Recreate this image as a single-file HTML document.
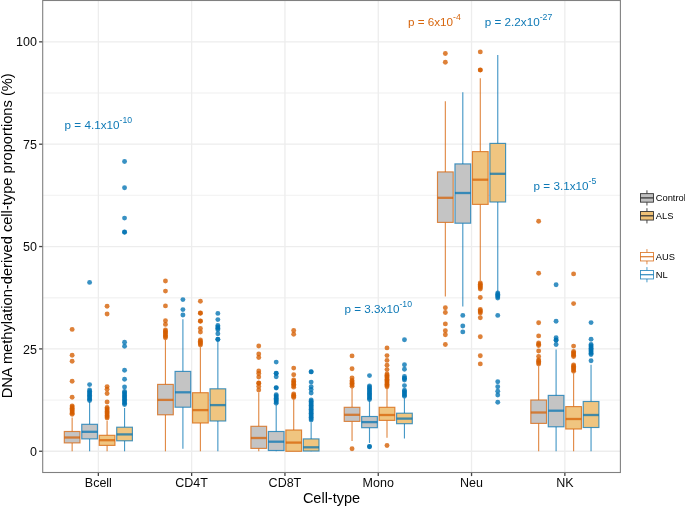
<!DOCTYPE html>
<html lang="en"><head><meta charset="utf-8"><title>Cell-type proportions</title>
<style>html,body{margin:0;padding:0;background:#fff}body{width:685px;height:506px;overflow:hidden}svg{display:block}text{font-family:"Liberation Sans",Arial,Helvetica,sans-serif}</style>
</head><body>
<svg width="685" height="506" viewBox="0 0 685 506">
<rect x="0" y="0" width="685" height="506" fill="#fff"/>
<g stroke="#f4f4f4" stroke-width="1.3" fill="none">
<line x1="42.7" x2="620.4" y1="400.07" y2="400.07"/>
<line x1="42.7" x2="620.4" y1="297.73" y2="297.73"/>
<line x1="42.7" x2="620.4" y1="195.37" y2="195.37"/>
<line x1="42.7" x2="620.4" y1="93.02" y2="93.02"/>
</g>
<g stroke="#ededed" stroke-width="1.3" fill="none">
<line x1="42.7" x2="620.4" y1="451.25" y2="451.25"/>
<line x1="42.7" x2="620.4" y1="348.90" y2="348.90"/>
<line x1="42.7" x2="620.4" y1="246.55" y2="246.55"/>
<line x1="42.7" x2="620.4" y1="144.20" y2="144.20"/>
<line x1="42.7" x2="620.4" y1="41.85" y2="41.85"/>
<line x1="98.35" x2="98.35" y1="0.5" y2="472.5"/>
<line x1="191.65" x2="191.65" y1="0.5" y2="472.5"/>
<line x1="284.95" x2="284.95" y1="0.5" y2="472.5"/>
<line x1="378.25" x2="378.25" y1="0.5" y2="472.5"/>
<line x1="471.55" x2="471.55" y1="0.5" y2="472.5"/>
<line x1="564.85" x2="564.85" y1="0.5" y2="472.5"/>
</g>
<g fill="#D55E00" fill-opacity="0.78">
<circle cx="72.15" cy="329.40" r="2.45"/><circle cx="72.15" cy="355.30" r="2.45"/><circle cx="72.15" cy="361.20" r="2.45"/><circle cx="72.15" cy="381.20" r="2.45"/><circle cx="72.15" cy="397.30" r="2.45"/><circle cx="72.15" cy="405.85" r="2.45"/><circle cx="72.15" cy="407.06" r="2.45"/><circle cx="72.15" cy="408.28" r="2.45"/><circle cx="72.15" cy="409.49" r="2.45"/><circle cx="72.15" cy="410.71" r="2.45"/><circle cx="72.15" cy="411.92" r="2.45"/><circle cx="72.15" cy="413.14" r="2.45"/><circle cx="72.15" cy="414.35" r="2.45"/>
</g>
<g stroke="#D55E00" stroke-opacity="0.72" stroke-width="1.15" fill="none">
<line x1="72.15" x2="72.15" y1="417.50" y2="431.50"/>
<line x1="72.15" x2="72.15" y1="442.90" y2="451.30"/>
<rect x="64.30" y="431.50" width="15.7" height="11.40" fill="#c0c0c0" fill-opacity="0.93"/>
<line x1="64.30" x2="80.00" y1="437.50" y2="437.50" stroke-width="2.3"/>
</g>
<g fill="#0072B2" fill-opacity="0.78">
<circle cx="89.60" cy="282.40" r="2.45"/><circle cx="89.60" cy="384.60" r="2.45"/><circle cx="89.60" cy="390.05" r="2.45"/><circle cx="89.60" cy="391.36" r="2.45"/><circle cx="89.60" cy="392.68" r="2.45"/><circle cx="89.60" cy="393.99" r="2.45"/><circle cx="89.60" cy="395.30" r="2.45"/><circle cx="89.60" cy="396.61" r="2.45"/><circle cx="89.60" cy="397.93" r="2.45"/><circle cx="89.60" cy="399.24" r="2.45"/><circle cx="89.60" cy="400.55" r="2.45"/>
</g>
<g stroke="#0072B2" stroke-opacity="0.72" stroke-width="1.15" fill="none">
<line x1="89.60" x2="89.60" y1="402.00" y2="424.30"/>
<line x1="89.60" x2="89.60" y1="438.90" y2="451.30"/>
<rect x="81.75" y="424.30" width="15.7" height="14.60" fill="#c0c0c0" fill-opacity="0.93"/>
<line x1="81.75" x2="97.45" y1="431.80" y2="431.80" stroke-width="2.3"/>
</g>
<g fill="#D55E00" fill-opacity="0.78">
<circle cx="107.10" cy="306.20" r="2.45"/><circle cx="107.10" cy="314.00" r="2.45"/><circle cx="107.10" cy="386.60" r="2.45"/><circle cx="107.10" cy="389.20" r="2.45"/><circle cx="107.10" cy="393.50" r="2.45"/><circle cx="107.10" cy="402.00" r="2.45"/><circle cx="107.10" cy="407.45" r="2.45"/><circle cx="107.10" cy="408.77" r="2.45"/><circle cx="107.10" cy="410.10" r="2.45"/><circle cx="107.10" cy="411.43" r="2.45"/><circle cx="107.10" cy="412.75" r="2.45"/><circle cx="107.10" cy="414.07" r="2.45"/><circle cx="107.10" cy="415.40" r="2.45"/><circle cx="107.10" cy="416.73" r="2.45"/><circle cx="107.10" cy="418.05" r="2.45"/>
</g>
<g stroke="#D55E00" stroke-opacity="0.72" stroke-width="1.15" fill="none">
<line x1="107.10" x2="107.10" y1="421.00" y2="435.30"/>
<line x1="107.10" x2="107.10" y1="445.40" y2="451.30"/>
<rect x="99.25" y="435.30" width="15.7" height="10.10" fill="#efc176" fill-opacity="0.93"/>
<line x1="99.25" x2="114.95" y1="440.20" y2="440.20" stroke-width="2.3"/>
</g>
<g fill="#0072B2" fill-opacity="0.78">
<circle cx="124.55" cy="161.50" r="2.45"/><circle cx="124.55" cy="187.70" r="2.45"/><circle cx="124.55" cy="218.10" r="2.45"/><circle cx="124.55" cy="232.00" r="2.45"/><circle cx="124.55" cy="232.20" r="2.45"/><circle cx="124.55" cy="342.30" r="2.45"/><circle cx="124.55" cy="346.30" r="2.45"/><circle cx="124.55" cy="370.20" r="2.45"/><circle cx="124.55" cy="379.20" r="2.45"/><circle cx="124.55" cy="387.00" r="2.45"/><circle cx="124.55" cy="391.45" r="2.45"/><circle cx="124.55" cy="392.76" r="2.45"/><circle cx="124.55" cy="394.07" r="2.45"/><circle cx="124.55" cy="395.38" r="2.45"/><circle cx="124.55" cy="396.69" r="2.45"/><circle cx="124.55" cy="398.00" r="2.45"/><circle cx="124.55" cy="399.31" r="2.45"/><circle cx="124.55" cy="400.62" r="2.45"/><circle cx="124.55" cy="401.93" r="2.45"/><circle cx="124.55" cy="403.24" r="2.45"/><circle cx="124.55" cy="404.55" r="2.45"/>
</g>
<g stroke="#0072B2" stroke-opacity="0.72" stroke-width="1.15" fill="none">
<line x1="124.55" x2="124.55" y1="408.00" y2="427.20"/>
<line x1="124.55" x2="124.55" y1="440.80" y2="451.30"/>
<rect x="116.70" y="427.20" width="15.7" height="13.60" fill="#efc176" fill-opacity="0.93"/>
<line x1="116.70" x2="132.40" y1="434.40" y2="434.40" stroke-width="2.3"/>
</g>
<g fill="#D55E00" fill-opacity="0.78">
<circle cx="165.45" cy="281.00" r="2.45"/><circle cx="165.45" cy="291.10" r="2.45"/><circle cx="165.45" cy="305.90" r="2.45"/><circle cx="165.45" cy="320.70" r="2.45"/><circle cx="165.45" cy="324.40" r="2.45"/><circle cx="165.45" cy="329.95" r="2.45"/><circle cx="165.45" cy="331.25" r="2.45"/><circle cx="165.45" cy="332.55" r="2.45"/><circle cx="165.45" cy="333.85" r="2.45"/><circle cx="165.45" cy="335.15" r="2.45"/><circle cx="165.45" cy="336.45" r="2.45"/><circle cx="165.45" cy="337.75" r="2.45"/>
</g>
<g stroke="#D55E00" stroke-opacity="0.72" stroke-width="1.15" fill="none">
<line x1="165.45" x2="165.45" y1="340.00" y2="384.40"/>
<line x1="165.45" x2="165.45" y1="414.80" y2="451.30"/>
<rect x="157.60" y="384.40" width="15.7" height="30.40" fill="#c0c0c0" fill-opacity="0.93"/>
<line x1="157.60" x2="173.30" y1="399.90" y2="399.90" stroke-width="2.3"/>
</g>
<g fill="#0072B2" fill-opacity="0.78">
<circle cx="182.90" cy="299.60" r="2.45"/><circle cx="182.90" cy="309.60" r="2.45"/><circle cx="182.90" cy="315.00" r="2.45"/>
</g>
<g stroke="#0072B2" stroke-opacity="0.72" stroke-width="1.15" fill="none">
<line x1="182.90" x2="182.90" y1="319.20" y2="371.40"/>
<line x1="182.90" x2="182.90" y1="407.20" y2="448.70"/>
<rect x="175.05" y="371.40" width="15.7" height="35.80" fill="#c0c0c0" fill-opacity="0.93"/>
<line x1="175.05" x2="190.75" y1="392.30" y2="392.30" stroke-width="2.3"/>
</g>
<g fill="#D55E00" fill-opacity="0.78">
<circle cx="200.40" cy="301.20" r="2.45"/><circle cx="200.40" cy="313.00" r="2.45"/><circle cx="200.40" cy="313.30" r="2.45"/><circle cx="200.40" cy="321.00" r="2.45"/><circle cx="200.40" cy="321.30" r="2.45"/><circle cx="200.40" cy="328.40" r="2.45"/><circle cx="200.40" cy="332.00" r="2.45"/><circle cx="200.40" cy="339.95" r="2.45"/><circle cx="200.40" cy="341.23" r="2.45"/><circle cx="200.40" cy="342.50" r="2.45"/><circle cx="200.40" cy="343.77" r="2.45"/><circle cx="200.40" cy="345.05" r="2.45"/>
</g>
<g stroke="#D55E00" stroke-opacity="0.72" stroke-width="1.15" fill="none">
<line x1="200.40" x2="200.40" y1="347.30" y2="392.70"/>
<line x1="200.40" x2="200.40" y1="423.00" y2="451.30"/>
<rect x="192.55" y="392.70" width="15.7" height="30.30" fill="#efc176" fill-opacity="0.93"/>
<line x1="192.55" x2="208.25" y1="410.10" y2="410.10" stroke-width="2.3"/>
</g>
<g fill="#0072B2" fill-opacity="0.78">
<circle cx="217.85" cy="313.40" r="2.45"/><circle cx="217.85" cy="319.60" r="2.45"/><circle cx="217.85" cy="333.70" r="2.45"/><circle cx="217.85" cy="339.20" r="2.45"/><circle cx="217.85" cy="339.50" r="2.45"/><circle cx="217.85" cy="325.45" r="2.45"/><circle cx="217.85" cy="326.88" r="2.45"/><circle cx="217.85" cy="328.32" r="2.45"/><circle cx="217.85" cy="329.75" r="2.45"/>
</g>
<g stroke="#0072B2" stroke-opacity="0.72" stroke-width="1.15" fill="none">
<line x1="217.85" x2="217.85" y1="341.40" y2="388.80"/>
<line x1="217.85" x2="217.85" y1="421.00" y2="451.30"/>
<rect x="210.00" y="388.80" width="15.7" height="32.20" fill="#efc176" fill-opacity="0.93"/>
<line x1="210.00" x2="225.70" y1="405.10" y2="405.10" stroke-width="2.3"/>
</g>
<g fill="#D55E00" fill-opacity="0.78">
<circle cx="258.75" cy="346.00" r="2.45"/><circle cx="258.75" cy="354.00" r="2.45"/><circle cx="258.75" cy="357.50" r="2.45"/><circle cx="258.75" cy="371.00" r="2.45"/><circle cx="258.75" cy="373.50" r="2.45"/><circle cx="258.75" cy="377.00" r="2.45"/><circle cx="258.75" cy="383.00" r="2.45"/><circle cx="258.75" cy="383.30" r="2.45"/><circle cx="258.75" cy="386.40" r="2.45"/><circle cx="258.75" cy="390.00" r="2.45"/>
</g>
<g stroke="#D55E00" stroke-opacity="0.72" stroke-width="1.15" fill="none">
<line x1="258.75" x2="258.75" y1="392.40" y2="426.30"/>
<line x1="258.75" x2="258.75" y1="448.40" y2="451.30"/>
<rect x="250.90" y="426.30" width="15.7" height="22.10" fill="#c0c0c0" fill-opacity="0.93"/>
<line x1="250.90" x2="266.60" y1="438.00" y2="438.00" stroke-width="2.3"/>
</g>
<g fill="#0072B2" fill-opacity="0.78">
<circle cx="276.20" cy="362.10" r="2.45"/><circle cx="276.20" cy="373.20" r="2.45"/><circle cx="276.20" cy="373.50" r="2.45"/><circle cx="276.20" cy="376.70" r="2.45"/><circle cx="276.20" cy="387.60" r="2.45"/><circle cx="276.20" cy="388.00" r="2.45"/><circle cx="276.20" cy="394.65" r="2.45"/><circle cx="276.20" cy="395.86" r="2.45"/><circle cx="276.20" cy="397.08" r="2.45"/><circle cx="276.20" cy="398.29" r="2.45"/><circle cx="276.20" cy="399.51" r="2.45"/><circle cx="276.20" cy="400.72" r="2.45"/><circle cx="276.20" cy="401.94" r="2.45"/><circle cx="276.20" cy="403.15" r="2.45"/>
</g>
<g stroke="#0072B2" stroke-opacity="0.72" stroke-width="1.15" fill="none">
<line x1="276.20" x2="276.20" y1="404.90" y2="431.50"/>
<line x1="276.20" x2="276.20" y1="450.50" y2="451.30"/>
<rect x="268.35" y="431.50" width="15.7" height="19.00" fill="#c0c0c0" fill-opacity="0.93"/>
<line x1="268.35" x2="284.05" y1="441.70" y2="441.70" stroke-width="2.3"/>
</g>
<g fill="#D55E00" fill-opacity="0.78">
<circle cx="293.70" cy="330.40" r="2.45"/><circle cx="293.70" cy="334.30" r="2.45"/><circle cx="293.70" cy="368.10" r="2.45"/><circle cx="293.70" cy="374.80" r="2.45"/><circle cx="293.70" cy="380.05" r="2.45"/><circle cx="293.70" cy="381.47" r="2.45"/><circle cx="293.70" cy="382.89" r="2.45"/><circle cx="293.70" cy="384.31" r="2.45"/><circle cx="293.70" cy="385.73" r="2.45"/><circle cx="293.70" cy="387.15" r="2.45"/><circle cx="293.70" cy="394.05" r="2.45"/><circle cx="293.70" cy="395.22" r="2.45"/><circle cx="293.70" cy="396.38" r="2.45"/><circle cx="293.70" cy="397.55" r="2.45"/>
</g>
<g stroke="#D55E00" stroke-opacity="0.72" stroke-width="1.15" fill="none">
<line x1="293.70" x2="293.70" y1="399.70" y2="430.00"/>
<line x1="293.70" x2="293.70" y1="451.30" y2="451.30"/>
<rect x="285.85" y="430.00" width="15.7" height="21.30" fill="#efc176" fill-opacity="0.93"/>
<line x1="285.85" x2="301.55" y1="442.60" y2="442.60" stroke-width="2.3"/>
</g>
<g fill="#0072B2" fill-opacity="0.78">
<circle cx="311.15" cy="371.70" r="2.45"/><circle cx="311.15" cy="371.90" r="2.45"/><circle cx="311.15" cy="382.10" r="2.45"/><circle cx="311.15" cy="386.80" r="2.45"/><circle cx="311.15" cy="389.50" r="2.45"/><circle cx="311.15" cy="393.00" r="2.45"/><circle cx="311.15" cy="399.95" r="2.45"/><circle cx="311.15" cy="401.29" r="2.45"/><circle cx="311.15" cy="402.63" r="2.45"/><circle cx="311.15" cy="403.97" r="2.45"/><circle cx="311.15" cy="405.31" r="2.45"/><circle cx="311.15" cy="406.65" r="2.45"/><circle cx="311.15" cy="407.99" r="2.45"/><circle cx="311.15" cy="409.33" r="2.45"/><circle cx="311.15" cy="410.67" r="2.45"/><circle cx="311.15" cy="412.01" r="2.45"/><circle cx="311.15" cy="413.35" r="2.45"/><circle cx="311.15" cy="414.69" r="2.45"/><circle cx="311.15" cy="416.03" r="2.45"/><circle cx="311.15" cy="417.37" r="2.45"/><circle cx="311.15" cy="418.71" r="2.45"/><circle cx="311.15" cy="420.05" r="2.45"/>
</g>
<g stroke="#0072B2" stroke-opacity="0.72" stroke-width="1.15" fill="none">
<line x1="311.15" x2="311.15" y1="422.40" y2="438.90"/>
<line x1="311.15" x2="311.15" y1="451.00" y2="451.30"/>
<rect x="303.30" y="438.90" width="15.7" height="12.10" fill="#efc176" fill-opacity="0.93"/>
<line x1="303.30" x2="319.00" y1="447.30" y2="447.30" stroke-width="2.3"/>
</g>
<g fill="#D55E00" fill-opacity="0.78">
<circle cx="352.05" cy="448.70" r="2.45"/><circle cx="352.05" cy="355.90" r="2.45"/><circle cx="352.05" cy="368.80" r="2.45"/><circle cx="352.05" cy="378.00" r="2.45"/><circle cx="352.05" cy="380.45" r="2.45"/><circle cx="352.05" cy="381.88" r="2.45"/><circle cx="352.05" cy="383.30" r="2.45"/><circle cx="352.05" cy="384.73" r="2.45"/><circle cx="352.05" cy="386.15" r="2.45"/>
</g>
<g stroke="#D55E00" stroke-opacity="0.72" stroke-width="1.15" fill="none">
<line x1="352.05" x2="352.05" y1="388.00" y2="407.30"/>
<line x1="352.05" x2="352.05" y1="421.40" y2="441.10"/>
<rect x="344.20" y="407.30" width="15.7" height="14.10" fill="#c0c0c0" fill-opacity="0.93"/>
<line x1="344.20" x2="359.90" y1="414.80" y2="414.80" stroke-width="2.3"/>
</g>
<g fill="#0072B2" fill-opacity="0.78">
<circle cx="369.50" cy="446.50" r="2.45"/><circle cx="369.50" cy="446.70" r="2.45"/><circle cx="369.50" cy="375.60" r="2.45"/><circle cx="369.50" cy="385.85" r="2.45"/><circle cx="369.50" cy="387.10" r="2.45"/><circle cx="369.50" cy="388.34" r="2.45"/><circle cx="369.50" cy="389.59" r="2.45"/><circle cx="369.50" cy="390.83" r="2.45"/><circle cx="369.50" cy="392.08" r="2.45"/><circle cx="369.50" cy="393.32" r="2.45"/><circle cx="369.50" cy="394.57" r="2.45"/><circle cx="369.50" cy="395.81" r="2.45"/><circle cx="369.50" cy="397.06" r="2.45"/><circle cx="369.50" cy="398.30" r="2.45"/><circle cx="369.50" cy="399.55" r="2.45"/>
</g>
<g stroke="#0072B2" stroke-opacity="0.72" stroke-width="1.15" fill="none">
<line x1="369.50" x2="369.50" y1="401.20" y2="416.50"/>
<line x1="369.50" x2="369.50" y1="427.70" y2="442.90"/>
<rect x="361.65" y="416.50" width="15.7" height="11.20" fill="#c0c0c0" fill-opacity="0.93"/>
<line x1="361.65" x2="377.35" y1="422.10" y2="422.10" stroke-width="2.3"/>
</g>
<g fill="#D55E00" fill-opacity="0.78">
<circle cx="387.00" cy="445.50" r="2.45"/><circle cx="387.00" cy="347.90" r="2.45"/><circle cx="387.00" cy="355.60" r="2.45"/><circle cx="387.00" cy="360.40" r="2.45"/><circle cx="387.00" cy="365.30" r="2.45"/><circle cx="387.00" cy="369.60" r="2.45"/><circle cx="387.00" cy="374.05" r="2.45"/><circle cx="387.00" cy="375.32" r="2.45"/><circle cx="387.00" cy="376.59" r="2.45"/><circle cx="387.00" cy="377.86" r="2.45"/><circle cx="387.00" cy="379.13" r="2.45"/><circle cx="387.00" cy="380.40" r="2.45"/><circle cx="387.00" cy="381.67" r="2.45"/><circle cx="387.00" cy="382.94" r="2.45"/><circle cx="387.00" cy="384.21" r="2.45"/><circle cx="387.00" cy="385.48" r="2.45"/><circle cx="387.00" cy="386.75" r="2.45"/>
</g>
<g stroke="#D55E00" stroke-opacity="0.72" stroke-width="1.15" fill="none">
<line x1="387.00" x2="387.00" y1="388.80" y2="407.30"/>
<line x1="387.00" x2="387.00" y1="420.40" y2="437.70"/>
<rect x="379.15" y="407.30" width="15.7" height="13.10" fill="#efc176" fill-opacity="0.93"/>
<line x1="379.15" x2="394.85" y1="415.00" y2="415.00" stroke-width="2.3"/>
</g>
<g fill="#0072B2" fill-opacity="0.78">
<circle cx="404.45" cy="339.80" r="2.45"/><circle cx="404.45" cy="364.80" r="2.45"/><circle cx="404.45" cy="369.20" r="2.45"/><circle cx="404.45" cy="376.40" r="2.45"/><circle cx="404.45" cy="378.30" r="2.45"/><circle cx="404.45" cy="378.60" r="2.45"/><circle cx="404.45" cy="380.00" r="2.45"/><circle cx="404.45" cy="385.60" r="2.45"/><circle cx="404.45" cy="390.25" r="2.45"/><circle cx="404.45" cy="391.47" r="2.45"/><circle cx="404.45" cy="392.69" r="2.45"/><circle cx="404.45" cy="393.91" r="2.45"/><circle cx="404.45" cy="395.13" r="2.45"/><circle cx="404.45" cy="396.35" r="2.45"/>
</g>
<g stroke="#0072B2" stroke-opacity="0.72" stroke-width="1.15" fill="none">
<line x1="404.45" x2="404.45" y1="398.30" y2="413.20"/>
<line x1="404.45" x2="404.45" y1="423.70" y2="438.50"/>
<rect x="396.60" y="413.20" width="15.7" height="10.50" fill="#efc176" fill-opacity="0.93"/>
<line x1="396.60" x2="412.30" y1="418.60" y2="418.60" stroke-width="2.3"/>
</g>
<g fill="#D55E00" fill-opacity="0.78">
<circle cx="445.35" cy="53.50" r="2.45"/><circle cx="445.35" cy="62.20" r="2.45"/><circle cx="445.35" cy="307.80" r="2.45"/><circle cx="445.35" cy="312.50" r="2.45"/><circle cx="445.35" cy="323.90" r="2.45"/><circle cx="445.35" cy="330.70" r="2.45"/><circle cx="445.35" cy="334.80" r="2.45"/><circle cx="445.35" cy="344.50" r="2.45"/>
</g>
<g stroke="#D55E00" stroke-opacity="0.72" stroke-width="1.15" fill="none">
<line x1="445.35" x2="445.35" y1="101.30" y2="171.90"/>
<line x1="445.35" x2="445.35" y1="222.40" y2="296.50"/>
<rect x="437.50" y="171.90" width="15.7" height="50.50" fill="#c0c0c0" fill-opacity="0.93"/>
<line x1="437.50" x2="453.20" y1="197.80" y2="197.80" stroke-width="2.3"/>
</g>
<g fill="#0072B2" fill-opacity="0.78">
<circle cx="462.80" cy="315.40" r="2.45"/><circle cx="462.80" cy="326.00" r="2.45"/><circle cx="462.80" cy="331.90" r="2.45"/>
</g>
<g stroke="#0072B2" stroke-opacity="0.72" stroke-width="1.15" fill="none">
<line x1="462.80" x2="462.80" y1="92.30" y2="163.90"/>
<line x1="462.80" x2="462.80" y1="223.20" y2="306.60"/>
<rect x="454.95" y="163.90" width="15.7" height="59.30" fill="#c0c0c0" fill-opacity="0.93"/>
<line x1="454.95" x2="470.65" y1="193.00" y2="193.00" stroke-width="2.3"/>
</g>
<g fill="#D55E00" fill-opacity="0.78">
<circle cx="480.30" cy="51.90" r="2.45"/><circle cx="480.30" cy="69.90" r="2.45"/><circle cx="480.30" cy="70.10" r="2.45"/><circle cx="480.30" cy="297.50" r="2.45"/><circle cx="480.30" cy="317.70" r="2.45"/><circle cx="480.30" cy="336.70" r="2.45"/><circle cx="480.30" cy="355.70" r="2.45"/><circle cx="480.30" cy="363.90" r="2.45"/><circle cx="480.30" cy="282.95" r="2.45"/><circle cx="480.30" cy="284.17" r="2.45"/><circle cx="480.30" cy="285.39" r="2.45"/><circle cx="480.30" cy="286.61" r="2.45"/><circle cx="480.30" cy="287.83" r="2.45"/><circle cx="480.30" cy="289.05" r="2.45"/><circle cx="480.30" cy="309.45" r="2.45"/><circle cx="480.30" cy="310.65" r="2.45"/><circle cx="480.30" cy="311.85" r="2.45"/><circle cx="480.30" cy="313.05" r="2.45"/>
</g>
<g stroke="#D55E00" stroke-opacity="0.72" stroke-width="1.15" fill="none">
<line x1="480.30" x2="480.30" y1="78.20" y2="151.60"/>
<line x1="480.30" x2="480.30" y1="204.40" y2="280.70"/>
<rect x="472.45" y="151.60" width="15.7" height="52.80" fill="#efc176" fill-opacity="0.93"/>
<line x1="472.45" x2="488.15" y1="179.70" y2="179.70" stroke-width="2.3"/>
</g>
<g fill="#0072B2" fill-opacity="0.78">
<circle cx="497.75" cy="315.40" r="2.45"/><circle cx="497.75" cy="381.80" r="2.45"/><circle cx="497.75" cy="386.80" r="2.45"/><circle cx="497.75" cy="391.30" r="2.45"/><circle cx="497.75" cy="395.00" r="2.45"/><circle cx="497.75" cy="402.30" r="2.45"/><circle cx="497.75" cy="292.95" r="2.45"/><circle cx="497.75" cy="294.23" r="2.45"/><circle cx="497.75" cy="295.50" r="2.45"/><circle cx="497.75" cy="296.77" r="2.45"/><circle cx="497.75" cy="298.05" r="2.45"/>
</g>
<g stroke="#0072B2" stroke-opacity="0.72" stroke-width="1.15" fill="none">
<line x1="497.75" x2="497.75" y1="55.10" y2="143.40"/>
<line x1="497.75" x2="497.75" y1="202.00" y2="291.70"/>
<rect x="489.90" y="143.40" width="15.7" height="58.60" fill="#efc176" fill-opacity="0.93"/>
<line x1="489.90" x2="505.60" y1="173.80" y2="173.80" stroke-width="2.3"/>
</g>
<g fill="#D55E00" fill-opacity="0.78">
<circle cx="538.65" cy="221.30" r="2.45"/><circle cx="538.65" cy="273.20" r="2.45"/><circle cx="538.65" cy="322.70" r="2.45"/><circle cx="538.65" cy="335.90" r="2.45"/><circle cx="538.65" cy="351.00" r="2.45"/><circle cx="538.65" cy="356.50" r="2.45"/><circle cx="538.65" cy="342.95" r="2.45"/><circle cx="538.65" cy="344.25" r="2.45"/><circle cx="538.65" cy="345.55" r="2.45"/><circle cx="538.65" cy="359.95" r="2.45"/><circle cx="538.65" cy="361.32" r="2.45"/><circle cx="538.65" cy="362.68" r="2.45"/><circle cx="538.65" cy="364.05" r="2.45"/>
</g>
<g stroke="#D55E00" stroke-opacity="0.72" stroke-width="1.15" fill="none">
<line x1="538.65" x2="538.65" y1="366.30" y2="400.00"/>
<line x1="538.65" x2="538.65" y1="423.40" y2="451.30"/>
<rect x="530.80" y="400.00" width="15.7" height="23.40" fill="#c0c0c0" fill-opacity="0.93"/>
<line x1="530.80" x2="546.50" y1="412.50" y2="412.50" stroke-width="2.3"/>
</g>
<g fill="#0072B2" fill-opacity="0.78">
<circle cx="556.10" cy="284.80" r="2.45"/><circle cx="556.10" cy="321.30" r="2.45"/><circle cx="556.10" cy="337.80" r="2.45"/><circle cx="556.10" cy="340.00" r="2.45"/><circle cx="556.10" cy="340.30" r="2.45"/><circle cx="556.10" cy="344.50" r="2.45"/>
</g>
<g stroke="#0072B2" stroke-opacity="0.72" stroke-width="1.15" fill="none">
<line x1="556.10" x2="556.10" y1="349.50" y2="395.40"/>
<line x1="556.10" x2="556.10" y1="426.80" y2="451.30"/>
<rect x="548.25" y="395.40" width="15.7" height="31.40" fill="#c0c0c0" fill-opacity="0.93"/>
<line x1="548.25" x2="563.95" y1="410.70" y2="410.70" stroke-width="2.3"/>
</g>
<g fill="#D55E00" fill-opacity="0.78">
<circle cx="573.60" cy="273.90" r="2.45"/><circle cx="573.60" cy="303.60" r="2.45"/><circle cx="573.60" cy="346.10" r="2.45"/><circle cx="573.60" cy="351.45" r="2.45"/><circle cx="573.60" cy="352.73" r="2.45"/><circle cx="573.60" cy="354.00" r="2.45"/><circle cx="573.60" cy="355.27" r="2.45"/><circle cx="573.60" cy="356.55" r="2.45"/><circle cx="573.60" cy="364.95" r="2.45"/><circle cx="573.60" cy="366.23" r="2.45"/><circle cx="573.60" cy="367.51" r="2.45"/><circle cx="573.60" cy="368.79" r="2.45"/><circle cx="573.60" cy="370.07" r="2.45"/><circle cx="573.60" cy="371.35" r="2.45"/>
</g>
<g stroke="#D55E00" stroke-opacity="0.72" stroke-width="1.15" fill="none">
<line x1="573.60" x2="573.60" y1="373.60" y2="406.60"/>
<line x1="573.60" x2="573.60" y1="429.00" y2="451.30"/>
<rect x="565.75" y="406.60" width="15.7" height="22.40" fill="#efc176" fill-opacity="0.93"/>
<line x1="565.75" x2="581.45" y1="419.00" y2="419.00" stroke-width="2.3"/>
</g>
<g fill="#0072B2" fill-opacity="0.78">
<circle cx="591.05" cy="322.60" r="2.45"/><circle cx="591.05" cy="339.20" r="2.45"/><circle cx="591.05" cy="360.70" r="2.45"/><circle cx="591.05" cy="344.45" r="2.45"/><circle cx="591.05" cy="345.71" r="2.45"/><circle cx="591.05" cy="346.98" r="2.45"/><circle cx="591.05" cy="348.24" r="2.45"/><circle cx="591.05" cy="349.50" r="2.45"/><circle cx="591.05" cy="350.76" r="2.45"/><circle cx="591.05" cy="352.02" r="2.45"/><circle cx="591.05" cy="353.29" r="2.45"/><circle cx="591.05" cy="354.55" r="2.45"/>
</g>
<g stroke="#0072B2" stroke-opacity="0.72" stroke-width="1.15" fill="none">
<line x1="591.05" x2="591.05" y1="364.80" y2="401.50"/>
<line x1="591.05" x2="591.05" y1="427.50" y2="451.30"/>
<rect x="583.20" y="401.50" width="15.7" height="26.00" fill="#efc176" fill-opacity="0.93"/>
<line x1="583.20" x2="598.90" y1="415.00" y2="415.00" stroke-width="2.3"/>
</g>
<rect x="42.7" y="0.5" width="577.6999999999999" height="472.0" fill="none" stroke="#808080" stroke-width="1.1"/>
<g stroke="#444" stroke-width="1.3" fill="none">
<line x1="39.1" x2="42.300000000000004" y1="451.25" y2="451.25"/>
<line x1="39.1" x2="42.300000000000004" y1="348.90" y2="348.90"/>
<line x1="39.1" x2="42.300000000000004" y1="246.55" y2="246.55"/>
<line x1="39.1" x2="42.300000000000004" y1="144.20" y2="144.20"/>
<line x1="39.1" x2="42.300000000000004" y1="41.85" y2="41.85"/>
<line x1="98.35" x2="98.35" y1="472.9" y2="476.1"/>
<line x1="191.65" x2="191.65" y1="472.9" y2="476.1"/>
<line x1="284.95" x2="284.95" y1="472.9" y2="476.1"/>
<line x1="378.25" x2="378.25" y1="472.9" y2="476.1"/>
<line x1="471.55" x2="471.55" y1="472.9" y2="476.1"/>
<line x1="564.85" x2="564.85" y1="472.9" y2="476.1"/>
</g>
<g font-size="12.5" fill="#0a0a0a">
<text x="36.9" y="455.85" text-anchor="end">0</text>
<text x="36.9" y="353.50" text-anchor="end">25</text>
<text x="36.9" y="251.15" text-anchor="end">50</text>
<text x="36.9" y="148.80" text-anchor="end">75</text>
<text x="36.9" y="46.45" text-anchor="end">100</text>
<text x="98.35" y="486.9" text-anchor="middle">Bcell</text>
<text x="191.65" y="486.9" text-anchor="middle">CD4T</text>
<text x="284.95" y="486.9" text-anchor="middle">CD8T</text>
<text x="378.25" y="486.9" text-anchor="middle">Mono</text>
<text x="471.55" y="486.9" text-anchor="middle">Neu</text>
<text x="564.85" y="486.9" text-anchor="middle">NK</text>
</g>
<g fill="#000">
<text x="331.5" y="502.5" font-size="14.5" text-anchor="middle">Cell-type</text>
<text transform="translate(11.8 235.8) rotate(-90)" font-size="14.67" text-anchor="middle">DNA methylation-derived cell-type proportions (%)</text>
</g>
<text x="64.6" y="128.6" font-size="11.7" fill="#0072B2" fill-opacity="0.95">p = 4.1x10<tspan font-size="8.7" dy="-5.8">-10</tspan></text>
<text x="344.5" y="312.8" font-size="11.7" fill="#0072B2" fill-opacity="0.95">p = 3.3x10<tspan font-size="8.7" dy="-5.8">-10</tspan></text>
<text x="407.9" y="26.2" font-size="11.7" fill="#D55E00" fill-opacity="0.95">p = 6x10<tspan font-size="8.7" dy="-5.8">-4</tspan></text>
<text x="484.8" y="26.2" font-size="11.7" fill="#0072B2" fill-opacity="0.95">p = 2.2x10<tspan font-size="8.7" dy="-5.8">-27</tspan></text>
<text x="533.6" y="189.6" font-size="11.7" fill="#0072B2" fill-opacity="0.95">p = 3.1x10<tspan font-size="8.7" dy="-5.8">-5</tspan></text>
<g stroke="#333" stroke-opacity="1" stroke-width="0.9" fill="none">
<line x1="646.95" x2="646.95" y1="190.30" y2="193.65"/>
<line x1="646.95" x2="646.95" y1="202.15" y2="205.50"/>
<rect x="640.45" y="193.65" width="12.999999999999977" height="8.5" fill="#c0c0c0"/>
<line x1="640.45" x2="653.4499999999999" y1="197.90" y2="197.90" stroke-width="1.25"/>
</g>
<text transform="translate(655.7 201.4) scale(1 1.03)" font-size="9.35" fill="#000">Control</text>
<g stroke="#333" stroke-opacity="1" stroke-width="0.9" fill="none">
<line x1="646.95" x2="646.95" y1="208.20" y2="211.55"/>
<line x1="646.95" x2="646.95" y1="220.05" y2="223.40"/>
<rect x="640.45" y="211.55" width="12.999999999999977" height="8.5" fill="#efc176"/>
<line x1="640.45" x2="653.4499999999999" y1="215.80" y2="215.80" stroke-width="1.25"/>
</g>
<text transform="translate(655.7 219.2) scale(1 1.03)" font-size="9.35" fill="#000">ALS</text>
<g stroke="#D55E00" stroke-opacity="0.8" stroke-width="0.9" fill="none">
<line x1="646.95" x2="646.95" y1="249.10" y2="252.45"/>
<line x1="646.95" x2="646.95" y1="260.95" y2="264.30"/>
<rect x="640.45" y="252.45" width="12.999999999999977" height="8.5" fill="#fff"/>
<line x1="640.45" x2="653.4499999999999" y1="256.70" y2="256.70" stroke-width="1.25"/>
</g>
<text transform="translate(655.7 260.1) scale(1 1.03)" font-size="9.35" fill="#000">AUS</text>
<g stroke="#0072B2" stroke-opacity="0.8" stroke-width="0.9" fill="none">
<line x1="646.95" x2="646.95" y1="267.10" y2="270.45"/>
<line x1="646.95" x2="646.95" y1="278.95" y2="282.30"/>
<rect x="640.45" y="270.45" width="12.999999999999977" height="8.5" fill="#fff"/>
<line x1="640.45" x2="653.4499999999999" y1="274.70" y2="274.70" stroke-width="1.25"/>
</g>
<text transform="translate(655.7 278.1) scale(1 1.03)" font-size="9.35" fill="#000">NL</text>
</svg>
</body></html>
